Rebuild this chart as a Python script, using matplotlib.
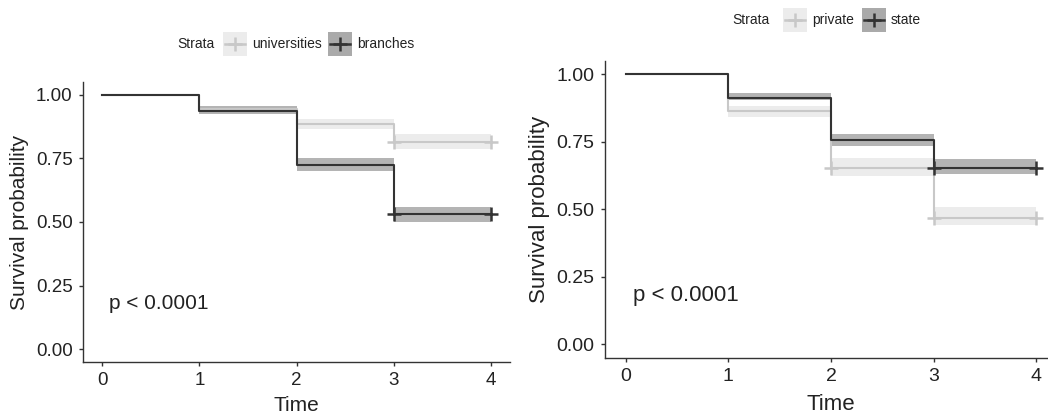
import numpy as np
import matplotlib
matplotlib.use('Agg')
import matplotlib.pyplot as plt
from matplotlib.patches import Rectangle
from matplotlib.lines import Line2D

plt.rcParams['font.family'] = ['Liberation Sans', 'DejaVu Sans']

# ---- data ----------------------------------------------------------------
time = [0, 1, 2, 3, 4]

uni_surv = [1.0, 0.945, 0.885, 0.815, 0.815]
uni_lo = [1.0, 0.935, 0.865, 0.785, 0.785]
uni_hi = [1.0, 0.955, 0.905, 0.845, 0.845]
uni_cens_t = [3, 4]
uni_cens_s = [0.815, 0.815]

br_surv = [1.0, 0.935, 0.725, 0.53, 0.53]
br_lo = [1.0, 0.925, 0.70, 0.50, 0.50]
br_hi = [1.0, 0.955, 0.75, 0.56, 0.56]
br_cens_t = [3, 4]
br_cens_s = [0.53, 0.53]

priv_surv = [1.0, 0.864, 0.652, 0.467, 0.467]
priv_lo = [1.0, 0.84, 0.624, 0.44, 0.44]
priv_hi = [1.0, 0.88, 0.689, 0.51, 0.51]
priv_cens_t = [2, 3, 4]
priv_cens_s = [0.652, 0.467, 0.467]

st_surv = [1.0, 0.912, 0.756, 0.652, 0.652]
st_lo = [1.0, 0.903, 0.735, 0.63, 0.63]
st_hi = [1.0, 0.928, 0.778, 0.685, 0.685]
st_cens_t = [3, 4]
st_cens_s = [0.652, 0.652]

ytick_vals = [0.0, 0.25, 0.5, 0.75, 1.0]
ytick_lbls = ['0.00', '0.25', '0.50', '0.75', '1.00']
pval_text = 'p < 0.0001'

# ---- style ---------------------------------------------------------------
W, H = 1048, 416
DARK, LIGHT = '#333333', '#c8c8c8'
DARK_BAND, LIGHT_BAND = '#b4b4b4', '#ececec'
TXT = '#222222'

fig = plt.figure(figsize=(W / 100, H / 100), dpi=100)
fig.patch.set_facecolor('white')


def px(x0, y0, x1, y1):
    return [x0 / W, 1 - y1 / H, (x1 - x0) / W, (y1 - y0) / H]


def km(ax, t, s, lo, hi, ct, cs, col, band):
    ax.fill_between(t, lo, hi, step='post', color=band, lw=0, zorder=1)
    ax.step(t, s, where='post', color=col, lw=1.5, zorder=3)
    ax.plot(ct, cs, ls='none', marker='+', ms=10, mew=1.8, color=col, zorder=4)


def style(ax, xlab_y, ylab_x, tick_fs, lab_fs, p_fs):
    ax.set_xlim(-0.2, 4.2)
    ax.set_ylim(-0.05, 1.05)
    ax.set_xticks(time)
    ax.set_yticks(ytick_vals, ytick_lbls)
    for sp in ('top', 'right'):
        ax.spines[sp].set_visible(False)
    for sp in ('left', 'bottom'):
        ax.spines[sp].set_color('#333333')
        ax.spines[sp].set_linewidth(1.0)
    ax.tick_params(direction='out', length=3, width=1.0, color='#333333',
                   labelsize=tick_fs, labelcolor=TXT, pad=4.5)
    ax.set_xlabel('Time', fontsize=lab_fs, color=TXT)
    ax.set_ylabel('Survival probability', fontsize=lab_fs, color=TXT)
    ax.xaxis.set_label_coords(0.5, xlab_y)
    ax.xaxis.label.set_va('center')
    ax.yaxis.set_label_coords(ylab_x, 0.5)
    ax.yaxis.label.set_va('center')
    ax.text(0.07, 0.18, pval_text, fontsize=p_fs, color=TXT, ha='left', va='center')


def legend_key(x0, y0, x1, y1, col, band):
    fig.patches.append(Rectangle((x0 / W, 1 - y1 / H), (x1 - x0) / W, (y1 - y0) / H,
                                 transform=fig.transFigure, fc=band, ec='none'))
    yc = 1 - (y0 + y1) / 2 / H
    fig.lines.append(Line2D([(x0 + 2) / W, (x1 - 2) / W], [yc, yc],
                            transform=fig.transFigure, color=col, lw=1.8))
    fig.lines.append(Line2D([(x0 + x1) / 2 / W], [yc], transform=fig.transFigure,
                            color=col, marker='+', ms=10, mew=1.8, ls='none'))


def legend(yc, strata_x, keys):
    fig.text(strata_x / W, 1 - yc / H, 'Strata', fontsize=10, color=TXT,
             ha='left', va='center')
    for x0, label, col, band in keys:
        legend_key(x0, yc - 12, x0 + 24, yc + 12, col, band)
        fig.text((x0 + 29) / W, 1 - yc / H, label, fontsize=10, color=TXT,
                 ha='left', va='center')


# ---- left panel ----------------------------------------------------------
axL = fig.add_axes(px(83, 82, 510, 362))
km(axL, time, uni_surv, uni_lo, uni_hi, uni_cens_t, uni_cens_s, LIGHT, LIGHT_BAND)
km(axL, time, br_surv, br_lo, br_hi, br_cens_t, br_cens_s, DARK, DARK_BAND)
style(axL, -0.154, -0.148, 13.5, 15, 15)
legend(44, 177, [(223, 'universities', LIGHT, LIGHT_BAND),
                 (328, 'branches', DARK, '#aaaaaa')])

# ---- right panel (cut off at the image edge) -----------------------------
axR = fig.add_axes(px(605, 60.5, 1057, 358))
km(axR, time, priv_surv, priv_lo, priv_hi, priv_cens_t, priv_cens_s, LIGHT, LIGHT_BAND)
km(axR, time, st_surv, st_lo, st_hi, st_cens_t, st_cens_s, DARK, DARK_BAND)
style(axR, -0.156, -0.146, 14, 16, 16)
legend(20, 732, [(783, 'private', LIGHT, LIGHT_BAND),
                 (862, 'state', DARK, '#aaaaaa')])

fig.savefig('out.png', dpi=100, facecolor='white')
